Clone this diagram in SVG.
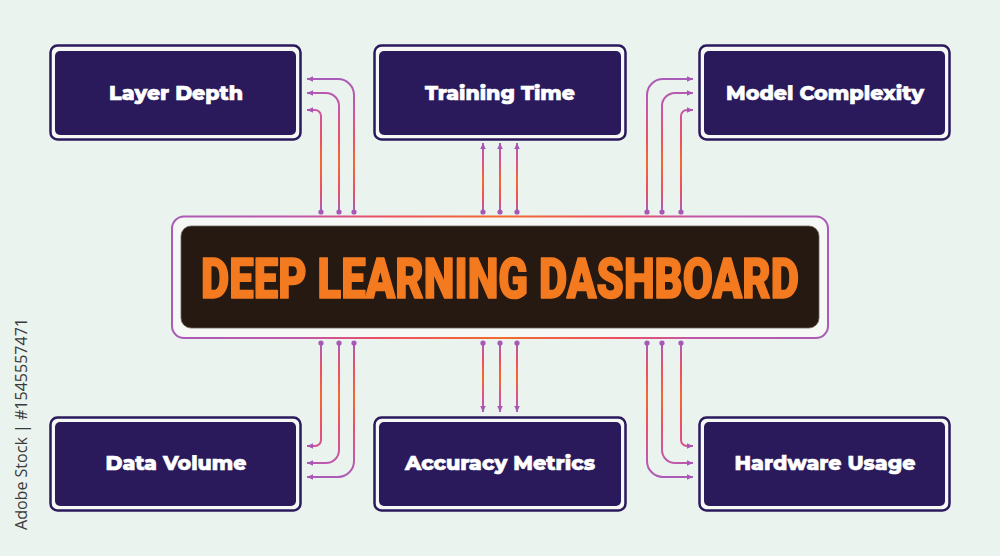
<svg xmlns="http://www.w3.org/2000/svg" width="1000" height="556" viewBox="0 0 1000 556">
<style>
.nodeOuter{fill:#f5f8f5;stroke:#2a1a5c;stroke-width:2.5}
.nodeInner{fill:#2a1a5c}
.lbl{font-family:"Montserrat","Open Sans","Liberation Sans",sans-serif;font-weight:800;font-size:20px;fill:#ffffff;stroke:#ffffff;stroke-width:0.6;text-anchor:middle}
.title{font-family:"Roboto","Liberation Sans",sans-serif;font-weight:900;font-size:55px;fill:#f47a20;stroke:#f47a20;stroke-width:1.6;stroke-linejoin:round;text-anchor:middle}
.conn{fill:none;stroke-width:2;marker-start:url(#dot);marker-end:url(#arr)}
.ct{stroke:url(#gTop)}
.cm{stroke:url(#gTopMid)}
.cb{stroke:url(#gBot)}
.cbm{stroke:url(#gBotMid)}
.wm{font-family:"Open Sans","Liberation Sans",sans-serif;font-size:16px;font-weight:500;fill:#3a3a3a;text-anchor:middle}
</style>
<defs>
<marker id="dot" markerUnits="userSpaceOnUse" markerWidth="8" markerHeight="8" refX="4" refY="4" orient="auto">
<circle cx="4" cy="4" r="2.6" fill="#a857b6"/>
</marker>
<marker id="arr" markerUnits="userSpaceOnUse" markerWidth="8" markerHeight="8" refX="6" refY="4" orient="auto">
<path d="M0,1.2 L6,4 L0,6.8 Z" fill="#a857b6"/>
</marker>
<linearGradient id="gTop" gradientUnits="userSpaceOnUse" x1="0" y1="80" x2="0" y2="212">
<stop offset="0" stop-color="#a95cb8"/>
<stop offset="0.25" stop-color="#cf55a0"/>
<stop offset="0.45" stop-color="#ee4f62"/>
<stop offset="0.62" stop-color="#f26b2c"/>
<stop offset="0.82" stop-color="#ee4f62"/>
<stop offset="1" stop-color="#a95cb8"/>
</linearGradient>
<linearGradient id="gTopMid" gradientUnits="userSpaceOnUse" x1="0" y1="143" x2="0" y2="212">
<stop offset="0" stop-color="#a95cb8"/>
<stop offset="0.3" stop-color="#e2508a"/>
<stop offset="0.55" stop-color="#f26b2c"/>
<stop offset="0.8" stop-color="#ee4f62"/>
<stop offset="1" stop-color="#a95cb8"/>
</linearGradient>
<linearGradient id="gBot" gradientUnits="userSpaceOnUse" x1="0" y1="343" x2="0" y2="478">
<stop offset="0" stop-color="#a95cb8"/>
<stop offset="0.2" stop-color="#ee4f62"/>
<stop offset="0.4" stop-color="#f26b2c"/>
<stop offset="0.6" stop-color="#ee4f62"/>
<stop offset="0.8" stop-color="#cf55a0"/>
<stop offset="1" stop-color="#a95cb8"/>
</linearGradient>
<linearGradient id="gBotMid" gradientUnits="userSpaceOnUse" x1="0" y1="343" x2="0" y2="412">
<stop offset="0" stop-color="#a95cb8"/>
<stop offset="0.25" stop-color="#ee4f62"/>
<stop offset="0.5" stop-color="#f26b2c"/>
<stop offset="0.75" stop-color="#e2508a"/>
<stop offset="1" stop-color="#a95cb8"/>
</linearGradient>
<linearGradient id="gBorder" gradientUnits="userSpaceOnUse" x1="172" y1="0" x2="828" y2="0">
<stop offset="0" stop-color="#a95cb8"/>
<stop offset="0.2" stop-color="#c257a8"/>
<stop offset="0.32" stop-color="#ee4f62"/>
<stop offset="0.5" stop-color="#f26b2c"/>
<stop offset="0.68" stop-color="#ee4f62"/>
<stop offset="0.8" stop-color="#c257a8"/>
<stop offset="1" stop-color="#a95cb8"/>
</linearGradient>
</defs>
<rect x="0" y="0" width="1000" height="556" fill="#eaf3ed"/>

<g id="connectors">
<path class="conn ct" d="M354,212 V95 A16,16 0 0 0 338,79 H307"/>
<path class="conn ct" d="M339,212 V106 A13,13 0 0 0 326,93 H307"/>
<path class="conn ct" d="M321,212 V116 A6,6 0 0 0 315,110 H307"/>
<path class="conn cm" d="M483,212 V143"/>
<path class="conn cm" d="M500,212 V143"/>
<path class="conn cm" d="M517,212 V143"/>
<path class="conn ct" d="M647,212 V95 A16,16 0 0 1 663,79 H693"/>
<path class="conn ct" d="M662,212 V106 A13,13 0 0 1 675,93 H693"/>
<path class="conn ct" d="M681,212 V116 A6,6 0 0 1 687,110 H693"/>
<path class="conn cb" d="M321,343 V440 A6,6 0 0 1 315,446 H307"/>
<path class="conn cb" d="M339,343 V450 A13,13 0 0 1 326,463 H307"/>
<path class="conn cb" d="M354,343 V461 A16,16 0 0 1 338,477 H307"/>
<path class="conn cbm" d="M483,343 V412"/>
<path class="conn cbm" d="M500,343 V412"/>
<path class="conn cbm" d="M517,343 V412"/>
<path class="conn cb" d="M681,343 V440 A6,6 0 0 0 687,446 H693"/>
<path class="conn cb" d="M662,343 V450 A13,13 0 0 0 675,463 H693"/>
<path class="conn cb" d="M647,343 V461 A16,16 0 0 0 663,477 H693"/>
</g>

<g id="center">
<rect x="172" y="216.5" width="656" height="121.5" rx="12" fill="#f5f8f5" stroke="url(#gBorder)" stroke-width="2"/>
<rect x="181" y="226" width="638" height="102" rx="10" fill="#261911" stroke="#6b6258" stroke-width="0.8"/>
<text class="title" x="500" y="298" textLength="598" lengthAdjust="spacingAndGlyphs">DEEP LEARNING DASHBOARD</text>
</g>

<g id="layer-depth">
<rect class="nodeOuter" x="50.5" y="45.5" width="250" height="94" rx="7"/>
<rect class="nodeInner" x="55" y="51" width="241" height="84" rx="5"/>
<text class="lbl" x="176" y="100" textLength="134" lengthAdjust="spacingAndGlyphs">Layer Depth</text>
</g>
<g id="training-time">
<rect class="nodeOuter" x="374.5" y="45.5" width="251" height="94" rx="7"/>
<rect class="nodeInner" x="379" y="51" width="242" height="84" rx="5"/>
<text class="lbl" x="500" y="100" textLength="150" lengthAdjust="spacingAndGlyphs">Training Time</text>
</g>
<g id="model-complexity">
<rect class="nodeOuter" x="699.5" y="45.5" width="250" height="94" rx="7"/>
<rect class="nodeInner" x="704" y="51" width="241" height="84" rx="5"/>
<text class="lbl" x="825" y="100" textLength="198" lengthAdjust="spacingAndGlyphs">Model Complexity</text>
</g>
<g id="data-volume">
<rect class="nodeOuter" x="50.5" y="417.5" width="250" height="93" rx="7"/>
<rect class="nodeInner" x="55" y="422" width="241" height="84" rx="5"/>
<text class="lbl" x="176" y="470" textLength="141" lengthAdjust="spacingAndGlyphs">Data Volume</text>
</g>
<g id="accuracy-metrics">
<rect class="nodeOuter" x="374.5" y="417.5" width="251" height="93" rx="7"/>
<rect class="nodeInner" x="379" y="422" width="242" height="84" rx="5"/>
<text class="lbl" x="500" y="470" textLength="190" lengthAdjust="spacingAndGlyphs">Accuracy Metrics</text>
</g>
<g id="hardware-usage">
<rect class="nodeOuter" x="699.5" y="417.5" width="250" height="93" rx="7"/>
<rect class="nodeInner" x="704" y="422" width="241" height="84" rx="5"/>
<text class="lbl" x="825" y="470" textLength="181" lengthAdjust="spacingAndGlyphs">Hardware Usage</text>
</g>

<text class="wm" transform="translate(27,424) rotate(-90)" x="0" y="0" textLength="212" lengthAdjust="spacingAndGlyphs">Adobe Stock | #1545557471</text>
</svg>
